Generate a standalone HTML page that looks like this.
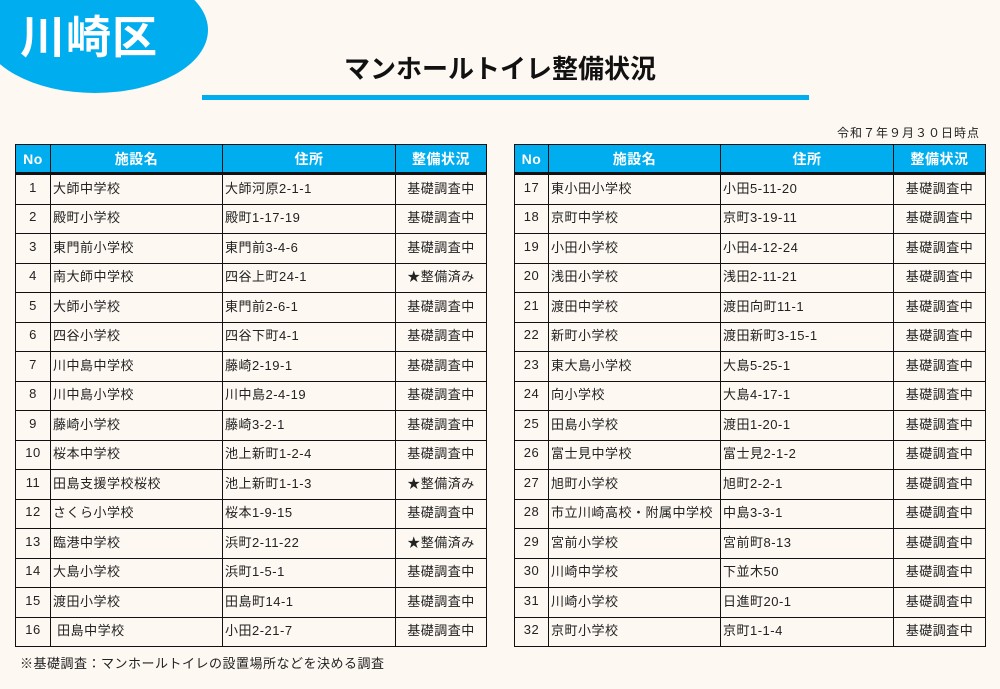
<!DOCTYPE html>
<html><head><meta charset="utf-8"><style>
body{margin:0;width:1000px;height:689px;background:#fdf8f2;position:relative;overflow:hidden;font-family:"Liberation Sans","Noto Sans CJK JP",sans-serif;color:#222}
.ell{position:absolute;left:-18px;top:-33px;width:226px;height:126px;border-radius:50%;background:#00aeef}
.ku{position:absolute;left:20px;top:10px;font-size:45px;font-weight:bold;color:#fff;letter-spacing:1px;line-height:56px}
.title{position:absolute;left:0;width:1000px;top:49px;text-align:center;font-size:26px;font-weight:bold;color:#111}
.line{position:absolute;left:202px;top:95px;width:607px;height:5px;background:#00aeef}
.date{position:absolute;right:20px;top:124px;font-size:12px;letter-spacing:1px}
table{position:absolute;top:144px;border-collapse:collapse;table-layout:fixed;font-size:13px}
td,th{border:1.5px solid #111;padding:0 2px;height:28.5px;white-space:nowrap;overflow:hidden;letter-spacing:0.5px}
td{padding-bottom:4px;height:24.5px}
th{background:#00aeef;color:#fff;font-weight:bold;font-size:14px;height:27px;border-bottom:3px solid #111}
td.n{text-align:center}td.s{text-align:center}
.note{position:absolute;left:20px;top:653px;font-size:13px;letter-spacing:0.5px}
</style></head><body>
<div class="ell"></div><div class="ku">川崎区</div>
<div class="title">マンホールトイレ整備状況</div>
<div class="line"></div>
<div class="date">令和７年９月３０日時点</div>
<table style="left:15px;width:471px"><colgroup><col style="width:35px"><col style="width:172px"><col style="width:173px"><col style="width:91px"></colgroup>
<tr><th>No</th><th>施設名</th><th>住所</th><th>整備状況</th></tr>
<tr><td class="n">1</td><td>大師中学校</td><td>大師河原2-1-1</td><td class="s">基礎調査中</td></tr>
<tr><td class="n">2</td><td>殿町小学校</td><td>殿町1-17-19</td><td class="s">基礎調査中</td></tr>
<tr><td class="n">3</td><td>東門前小学校</td><td>東門前3-4-6</td><td class="s">基礎調査中</td></tr>
<tr><td class="n">4</td><td>南大師中学校</td><td>四谷上町24-1</td><td class="s">★整備済み</td></tr>
<tr><td class="n">5</td><td>大師小学校</td><td>東門前2-6-1</td><td class="s">基礎調査中</td></tr>
<tr><td class="n">6</td><td>四谷小学校</td><td>四谷下町4-1</td><td class="s">基礎調査中</td></tr>
<tr><td class="n">7</td><td>川中島中学校</td><td>藤崎2-19-1</td><td class="s">基礎調査中</td></tr>
<tr><td class="n">8</td><td>川中島小学校</td><td>川中島2-4-19</td><td class="s">基礎調査中</td></tr>
<tr><td class="n">9</td><td>藤崎小学校</td><td>藤崎3-2-1</td><td class="s">基礎調査中</td></tr>
<tr><td class="n">10</td><td>桜本中学校</td><td>池上新町1-2-4</td><td class="s">基礎調査中</td></tr>
<tr><td class="n">11</td><td>田島支援学校桜校</td><td>池上新町1-1-3</td><td class="s">★整備済み</td></tr>
<tr><td class="n">12</td><td>さくら小学校</td><td>桜本1-9-15</td><td class="s">基礎調査中</td></tr>
<tr><td class="n">13</td><td>臨港中学校</td><td>浜町2-11-22</td><td class="s">★整備済み</td></tr>
<tr><td class="n">14</td><td>大島小学校</td><td>浜町1-5-1</td><td class="s">基礎調査中</td></tr>
<tr><td class="n">15</td><td>渡田小学校</td><td>田島町14-1</td><td class="s">基礎調査中</td></tr>
<tr><td class="n">16</td><td>&nbsp;田島中学校</td><td>小田2-21-7</td><td class="s">基礎調査中</td></tr>
</table>
<table style="left:514px;width:471px"><colgroup><col style="width:34px"><col style="width:172px"><col style="width:173px"><col style="width:92px"></colgroup>
<tr><th>No</th><th>施設名</th><th>住所</th><th>整備状況</th></tr>
<tr><td class="n">17</td><td>東小田小学校</td><td>小田5-11-20</td><td class="s">基礎調査中</td></tr>
<tr><td class="n">18</td><td>京町中学校</td><td>京町3-19-11</td><td class="s">基礎調査中</td></tr>
<tr><td class="n">19</td><td>小田小学校</td><td>小田4-12-24</td><td class="s">基礎調査中</td></tr>
<tr><td class="n">20</td><td>浅田小学校</td><td>浅田2-11-21</td><td class="s">基礎調査中</td></tr>
<tr><td class="n">21</td><td>渡田中学校</td><td>渡田向町11-1</td><td class="s">基礎調査中</td></tr>
<tr><td class="n">22</td><td>新町小学校</td><td>渡田新町3-15-1</td><td class="s">基礎調査中</td></tr>
<tr><td class="n">23</td><td>東大島小学校</td><td>大島5-25-1</td><td class="s">基礎調査中</td></tr>
<tr><td class="n">24</td><td>向小学校</td><td>大島4-17-1</td><td class="s">基礎調査中</td></tr>
<tr><td class="n">25</td><td>田島小学校</td><td>渡田1-20-1</td><td class="s">基礎調査中</td></tr>
<tr><td class="n">26</td><td>富士見中学校</td><td>富士見2-1-2</td><td class="s">基礎調査中</td></tr>
<tr><td class="n">27</td><td>旭町小学校</td><td>旭町2-2-1</td><td class="s">基礎調査中</td></tr>
<tr><td class="n">28</td><td>市立川崎高校・附属中学校</td><td>中島3-3-1</td><td class="s">基礎調査中</td></tr>
<tr><td class="n">29</td><td>宮前小学校</td><td>宮前町8-13</td><td class="s">基礎調査中</td></tr>
<tr><td class="n">30</td><td>川崎中学校</td><td>下並木50</td><td class="s">基礎調査中</td></tr>
<tr><td class="n">31</td><td>川崎小学校</td><td>日進町20-1</td><td class="s">基礎調査中</td></tr>
<tr><td class="n">32</td><td>京町小学校</td><td>京町1-1-4</td><td class="s">基礎調査中</td></tr>
</table>
<div class="note">※基礎調査：マンホールトイレの設置場所などを決める調査</div>
</body></html>
